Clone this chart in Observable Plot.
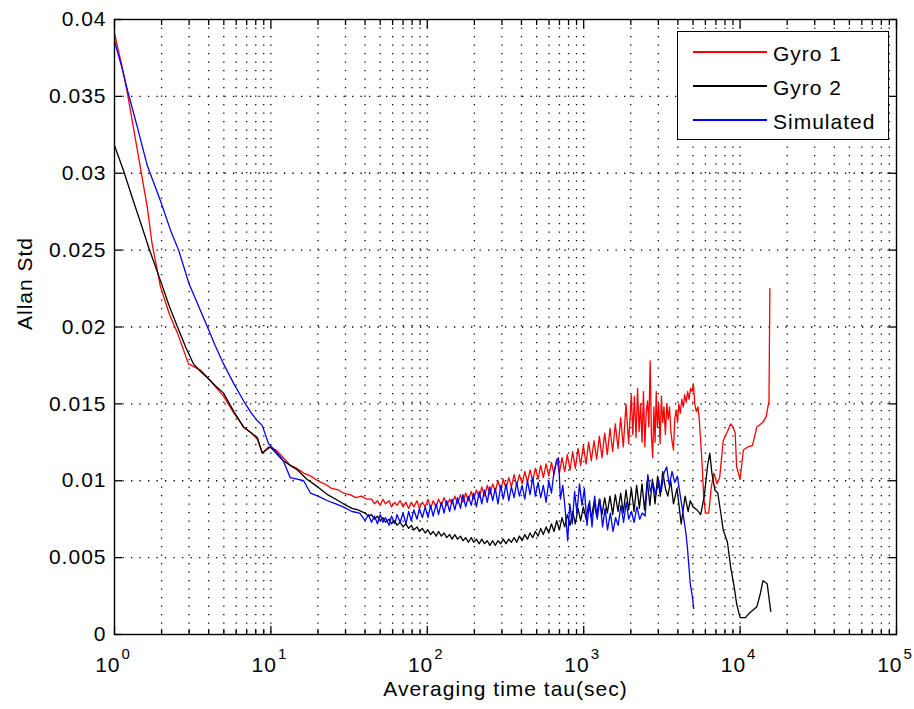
<!DOCTYPE html>
<html><head><meta charset="utf-8">
<script src="https://cdn.jsdelivr.net/npm/d3@7"></script>
<script src="https://cdn.jsdelivr.net/npm/@observablehq/plot@0.6"></script>
<style>
html,body{margin:0;padding:0;background:#fff;}
#chart{position:relative;width:914px;height:709px;font-family:"Liberation Sans",Arial,sans-serif;}
#legend{position:absolute;left:677px;top:31px;width:210px;height:107px;border:1px solid #000;background:#fff;}
.lg-line{position:absolute;left:15px;width:74px;height:1.6px;}
.lg-text{position:absolute;left:95px;font-size:21px;line-height:24px;letter-spacing:1px;color:#000;white-space:nowrap;}
</style></head><body><div id="chart"></div>
<script>
// [tau (sec), Allan std]
const gyro1 = [[1,0.0391],[1.12,0.0369],[1.21,0.0352],[1.4,0.0315],[1.62,0.0278],[1.74,0.0254],[1.97,0.0226],[2.25,0.0208],[2.53,0.0196],[2.97,0.0176],[3.55,0.0172],[4.1,0.0165],[4.98,0.0155],[5.8,0.0144],[6.68,0.0135],[7.5,0.0131],[8.2,0.0127],[8.83,0.0118],[9.67,0.0122],[10.8,0.0120],[12,0.0115],[13.3,0.0110],[14.7,0.0108],[16.2,0.0105],[18,0.0103],[19.9,0.0100],[22,0.0098],[24.5,0.0095],[27,0.0094],[29.1,0.0092],[32,0.0091],[35,0.0089],[38,0.0090],[41,0.0088],
[44,0.0088],[46,0.0085],[48,0.0087],[50,0.0084],[52,0.0088],[54,0.0085],[57,0.0087],[59,0.0083],[62,0.0086],[64,0.0084],[67,0.0087],[70,0.0083],[73,0.0086],[76,0.0082],[79,0.0086],[82,0.0083],[86,0.0087],[89,0.0082],[93,0.0086],[97,0.0083],[101,0.0088],[105,0.0082],[109,0.0087],[114,0.0083],[118,0.0088],[123,0.0084],[128,0.0089],[133,0.0084],[139,0.0088],[144,0.0085],[150,0.0090],[156,0.0085],[163,0.0091],[169,0.0086],[176,0.0092],[183,0.0087],[191,0.0093],[198,0.0088],[206,0.0094],[215,0.0089],[223,0.0096],[232,0.0090],[242,0.0097],[251,0.0091],[262,0.0098],[272,0.0093],[283,0.0100],[295,0.0094],[306,0.0101],[319,0.0095],[332,0.0102],[345,0.0096],[359,0.0104],[373,0.0097],[388,0.0104],[404,0.0098],[420,0.0106],[437,0.0099],[454,0.0107],[472,0.0100],[491,0.0108],[511,0.0101],[531,0.0110],[552,0.0102],[575,0.0111],[598,0.0103],[622,0.0112],[646,0.0104],[672,0.0114],[699,0.0105],[727,0.0115],[756,0.0106],[786,0.0117],[818,0.0107],[850,0.0119],[884,0.0108],[920,0.0121],[956,0.0110],[995,0.0123],[1035,0.0111],[1076,0.0125],[1119,0.0113],[1164,0.0126],[1210,0.0114],[1259,0.0129],[1309,0.0115],[1362,0.0131],[1416,0.0117],[1473,0.0134],[1532,0.0119],[1593,0.0137],[1657,0.0121],[1723,0.0141],[1792,0.0122],[1864,0.0150],[1938,0.0124],[2016,0.0156],
[2060,0.0130],[2110,0.0155],[2160,0.0128],[2210,0.0160],[2260,0.0132],[2310,0.0150],[2360,0.0125],[2410,0.0158],[2460,0.0122],[2510,0.0145],[2560,0.0152],[2610,0.0135],[2660,0.0178],[2710,0.0130],[2760,0.0115],[2810,0.0148],[2860,0.0125],[2910,0.0158],[2960,0.0135],[3020,0.0150],[3080,0.0124],[3140,0.0155],[3200,0.0138],[3260,0.0148],[3330,0.0130],[3400,0.0150],[3470,0.0140],[3540,0.0148],[3610,0.0132],[3680,0.0125],[3750,0.0120],[3820,0.0140],[3900,0.0146],[3980,0.0138],[4060,0.0150],[4150,0.0144],[4240,0.0153],[4330,0.0148],[4420,0.0156],[4520,0.0151],[4620,0.0158],[4720,0.0153],[4820,0.0160],[4930,0.0158],[5030,0.0163],[5130,0.0150],[5250,0.0145],[5380,0.0148],[5480,0.0140],
[5700,0.0113],[5850,0.0090],[6000,0.0079],[6300,0.0079],[6550,0.0096],[6800,0.0105],[7100,0.0098],[7400,0.0102],[7800,0.0126],[8300,0.0132],[8700,0.0137],[9000,0.0135],[9300,0.0131],[9500,0.0109],[10000,0.0101],[10500,0.0120],[11200,0.0122],[12000,0.0123],[12800,0.0135],[14000,0.0138],[14700,0.0142],[15300,0.0152],[15500,0.0225]];

const gyro2 = [[1,0.0318],[1.14,0.0302],[1.32,0.0282],[1.5,0.0265],[1.65,0.0252],[1.97,0.0230],[2.25,0.0213],[2.53,0.0200],[2.85,0.0187],[3.2,0.0176],[3.55,0.0171],[3.93,0.0167],[4.4,0.0162],[4.98,0.0157],[5.8,0.0145],[6.68,0.0135],[7.5,0.0131],[8.2,0.0128],[8.8,0.0118],[9.9,0.0122],[11,0.0117],[12,0.0113],[13.3,0.0110],[14.8,0.0107],[17,0.0101],[19.9,0.0096],[23,0.0091],[26,0.0088],[29.1,0.0085],[33,0.0082],[36,0.0081],
[40,0.0079],[42,0.0077],[44,0.0078],[46,0.0075],[48,0.0077],[50,0.0074],[52,0.0076],[54,0.0073],[57,0.0075],[59,0.0072],[62,0.0074],[64,0.0071],[67,0.0073],[70,0.0070],[73,0.0072],[76,0.0069],[79,0.0071],[82,0.0068],[86,0.0070],[89,0.0067],[93,0.0069],[97,0.0066],[101,0.0068],[105,0.0065],[109,0.0067],[114,0.0064],[118,0.0067],[123,0.0064],[128,0.0066],[133,0.0063],[139,0.0065],[144,0.0062],[150,0.0065],[156,0.0062],[163,0.0064],[169,0.0061],[176,0.0063],[183,0.0060],[191,0.0063],[198,0.0060],[206,0.0062],[215,0.0059],[223,0.0062],[232,0.0059],[242,0.0061],[251,0.0058],[262,0.0061],[272,0.0058],[283,0.0061],[295,0.0059],[306,0.0062],[319,0.0059],[332,0.0062],[345,0.0060],[359,0.0063],[373,0.0060],[388,0.0064],[404,0.0061],[420,0.0065],[437,0.0062],[454,0.0066],[472,0.0063],[491,0.0067],[511,0.0064],[531,0.0069],[552,0.0065],[575,0.0070],[598,0.0066],[622,0.0072],[646,0.0067],[672,0.0074],[699,0.0068],[727,0.0076],[756,0.0070],[786,0.0078],[818,0.0071],[850,0.0080],[884,0.0072],[920,0.0082],[956,0.0074],[995,0.0083],[1035,0.0075],[1076,0.0085],[1119,0.0076],[1164,0.0086],[1210,0.0077],[1259,0.0088],[1309,0.0078],[1362,0.0089],[1416,0.0079],[1473,0.0090],[1532,0.0078],[1593,0.0091],[1657,0.0080],[1723,0.0092],[1792,0.0079],[1864,0.0094],[1938,0.0081],[2016,0.0095],[2100,0.0080],[2180,0.0097],[2270,0.0082],[2360,0.0098],[2450,0.0081],[2550,0.0100],[2650,0.0084],[2750,0.0101],[2860,0.0085],[2970,0.0103],[3090,0.0090],[3200,0.0106],[3330,0.0095],[3450,0.0090],[3600,0.0100],[3750,0.0085],
[3950,0.0095],[4200,0.0072],[4450,0.0090],[4650,0.0080],[4800,0.0087],[5000,0.0083],[5300,0.0081],[5600,0.0078],[5900,0.0090],[6200,0.0110],[6400,0.0118],[6600,0.0105],[6900,0.0094],[7200,0.0092],[7500,0.0080],[7800,0.0068],[8300,0.0060],[8700,0.0044],[9200,0.0030],[9500,0.0020],[10000,0.0011],[10800,0.0011],[11500,0.0014],[12800,0.0018],[13500,0.0027],[14000,0.0035],[14900,0.0033],[15700,0.0015]];

const simulated = [[1,0.0386],[1.12,0.0368],[1.21,0.0354],[1.4,0.0330],[1.62,0.0305],[1.97,0.0282],[2.28,0.0263],[2.57,0.0250],[3.0,0.0228],[3.5,0.0212],[3.93,0.0200],[4.4,0.0188],[4.98,0.0176],[5.8,0.0163],[6.68,0.0152],[7.5,0.0144],[8.2,0.0139],[8.8,0.0136],[9.67,0.0124],[10.8,0.0119],[12,0.0113],[13.3,0.0102],[14.7,0.0101],[16.2,0.0100],[17.9,0.0092],[20,0.0090],[23,0.0087],[26,0.0085],[29,0.0083],[33,0.0080],[37,0.0079],
[40,0.0074],[42,0.0078],[44,0.0073],[46,0.0077],[48,0.0072],[50,0.0078],[52,0.0073],[54,0.0076],[57,0.0071],[59,0.0077],[62,0.0072],[64,0.0078],[67,0.0073],[70,0.0079],[73,0.0072],[76,0.0080],[79,0.0074],[82,0.0081],[86,0.0075],[89,0.0082],[93,0.0076],[97,0.0083],[101,0.0076],[105,0.0084],[109,0.0077],[114,0.0085],[118,0.0078],[123,0.0086],[128,0.0079],[133,0.0087],[139,0.0080],[144,0.0088],[150,0.0081],[156,0.0089],[163,0.0082],[169,0.0091],[176,0.0083],[183,0.0090],[191,0.0084],[198,0.0092],[206,0.0083],[215,0.0093],[223,0.0085],[232,0.0094],[242,0.0086],[251,0.0096],[262,0.0087],[272,0.0095],[283,0.0085],[295,0.0097],[306,0.0088],[319,0.0098],[332,0.0087],[345,0.0096],[359,0.0089],[373,0.0099],[388,0.0090],[404,0.0097],[420,0.0088],[437,0.0100],[454,0.0091],[472,0.0102],[491,0.0090],[511,0.0099],[531,0.0089],[552,0.0097],[575,0.0086],[598,0.0100],[622,0.0092],[646,0.0106],[672,0.0113],[690,0.0115],[710,0.0088],[735,0.0097],[760,0.0082],[790,0.0061],[815,0.0085],[845,0.0072],[875,0.0093],[905,0.0079],[940,0.0098],[975,0.0084],[1010,0.0095],[1050,0.0071],[1090,0.0087],[1130,0.0070],[1175,0.0090],[1220,0.0075],[1270,0.0088],[1320,0.0070],[1370,0.0082],[1420,0.0068],[1480,0.0079],[1540,0.0067],[1600,0.0076],[1660,0.0071],[1730,0.0084],[1800,0.0073],[1870,0.0086],[1940,0.0075],[2020,0.0080],[2100,0.0073],[2190,0.0083],[2280,0.0075],[2370,0.0079],[2470,0.0077],[2570,0.0104],[2670,0.0093],[2780,0.0098],[2890,0.0091],[3010,0.0100],[3130,0.0093],[3260,0.0105],[3390,0.0109],[3530,0.0097],[3670,0.0106],[3820,0.0099],[3970,0.0103],[4150,0.0090],[4330,0.0078],[4500,0.0066],[4600,0.0057],[4700,0.0045],[4800,0.0033],[4950,0.0025],[5050,0.0017]];

const seriesNames = ["Gyro 1", "Gyro 2", "Simulated"];
const seriesColors = ["#ff0000", "#000000", "#0000ff"];
const xMajor = [1, 10, 100, 1000, 10000, 100000];
const xExponents = ["0", "1", "2", "3", "4", "5"];
const yTicks = [0, 0.005, 0.01, 0.015, 0.02, 0.025, 0.03, 0.035, 0.04];
const yTickLabels = ["0", "0.005", "0.01", "0.015", "0.02", "0.025", "0.03", "0.035", "0.04"];
const xLabel = "Averaging time tau(sec)";
const yLabel = "Allan Std";

const xMinor = [];
for (let e = 0; e < 5; e++) for (let m = 2; m <= 9; m++) xMinor.push(m * 10 ** e);
const xGrid = xMinor.concat(xMajor.slice(1, -1));
const yGrid = yTicks.slice(1, -1);

const seriesData = [gyro1, gyro2, simulated];
const dot = {stroke: "#000", strokeWidth: 1.3, strokeDasharray: "1.3,7.2"};

const plot = Plot.plot({
  width: 914, height: 709,
  marginLeft: 114, marginRight: 18, marginTop: 19, marginBottom: 75,
  style: {fontFamily: "'Liberation Sans', Arial, sans-serif", fontSize: "21px", color: "#000", background: "#fff", letterSpacing: "1px", overflow: "visible"},
  x: {type: "log", domain: [1, 1e5]},
  y: {domain: [0, 0.04]},
  marks: [
    Plot.ruleX(xGrid, {x: d => d, ...dot}),
    Plot.ruleY(yGrid, {y: d => d, ...dot}),
    ...seriesData.map((s, i) => Plot.line(s, {x: d => d[0], y: d => d[1], stroke: seriesColors[i], strokeWidth: 1.3})),
    Plot.frame({stroke: "#000", strokeWidth: 1.4}),
    Plot.axisX(xMinor, {anchor: "bottom", tickSize: -5, tickFormat: () => "", label: null, strokeWidth: 1.3}),
    Plot.axisX(xMinor, {anchor: "top", tickSize: -5, tickFormat: () => "", label: null, strokeWidth: 1.3}),
    Plot.axisX(xMajor, {anchor: "bottom", tickSize: -8, tickFormat: () => "", label: null, strokeWidth: 1.3}),
    Plot.axisX(xMajor, {anchor: "top", tickSize: -8, tickFormat: () => "", label: null, strokeWidth: 1.3}),
    Plot.axisY(yTicks, {anchor: "left", tickSize: -8, tickFormat: () => "", label: null, strokeWidth: 1.3}),
    Plot.axisY(yTicks, {anchor: "right", tickSize: -8, tickFormat: () => "", label: null, strokeWidth: 1.3}),
    Plot.text(yTicks, {y: d => d, frameAnchor: "left", text: (d, i) => yTickLabels[i], textAnchor: "end", dx: -8, fontSize: 21}),
    Plot.text(xMajor, {x: d => d, frameAnchor: "bottom", text: () => "10", textAnchor: "end", lineAnchor: "bottom", dx: 6, dy: 37, fontSize: 21}),
    Plot.text(xMajor, {x: d => d, frameAnchor: "bottom", text: (d, i) => xExponents[i], textAnchor: "start", lineAnchor: "bottom", dx: 7, dy: 24, fontSize: 15}),
    Plot.text([xLabel], {frameAnchor: "bottom", text: d => d, lineAnchor: "bottom", dy: 61, fontSize: 21}),
    Plot.text([yLabel], {frameAnchor: "left", text: d => d, rotate: -90, lineAnchor: "bottom", dx: -83, dy: 3, fontSize: 21})
  ]
});

const chart = document.getElementById("chart");
chart.appendChild(plot);

const legend = document.createElement("div");
legend.id = "legend";
seriesNames.forEach((name, i) => {
  const cy = 20 + i * 34;
  const ln = document.createElement("div");
  ln.className = "lg-line";
  ln.style.top = (cy - 0.8) + "px";
  ln.style.background = seriesColors[i];
  const tx = document.createElement("div");
  tx.className = "lg-text";
  tx.style.top = (cy - 10.5) + "px";
  tx.textContent = name;
  legend.appendChild(ln);
  legend.appendChild(tx);
});
chart.appendChild(legend);
</script>
</body></html>
